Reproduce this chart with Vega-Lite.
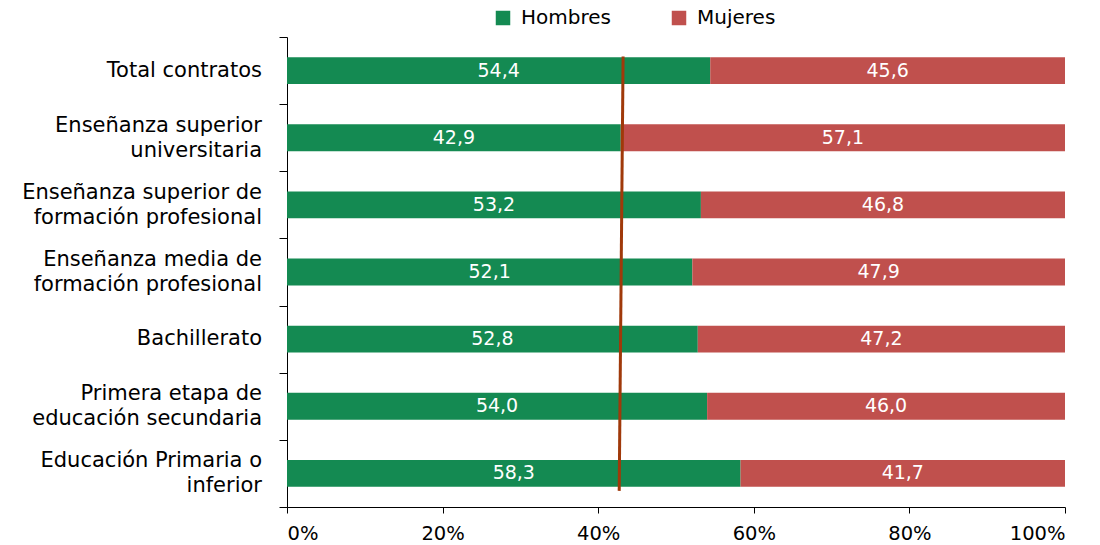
{
  "$schema": "https://vega.github.io/schema/vega-lite/v6.json",
  "autosize": {"type": "none"},
  "width": 778,
  "height": 470,
  "padding": {"left": 287, "top": 37, "right": 35, "bottom": 38},
  "background": "white",
  "config": {
    "view": {"stroke": null},
    "font": "DejaVu Sans",
    "locale": {"number": {"decimal": ",", "thousands": ".", "grouping": [3], "currency": ["", " €"]}}
  },
  "datasets": {
    "bars": [
      {"categoria": "Total contratos", "sexo": "Hombres", "valor": 54.4},
      {"categoria": "Total contratos", "sexo": "Mujeres", "valor": 45.6},
      {"categoria": "Enseñanza superior|universitaria", "sexo": "Hombres", "valor": 42.9},
      {"categoria": "Enseñanza superior|universitaria", "sexo": "Mujeres", "valor": 57.1},
      {"categoria": "Enseñanza superior de|formación profesional", "sexo": "Hombres", "valor": 53.2},
      {"categoria": "Enseñanza superior de|formación profesional", "sexo": "Mujeres", "valor": 46.8},
      {"categoria": "Enseñanza media de|formación profesional", "sexo": "Hombres", "valor": 52.1},
      {"categoria": "Enseñanza media de|formación profesional", "sexo": "Mujeres", "valor": 47.9},
      {"categoria": "Bachillerato", "sexo": "Hombres", "valor": 52.8},
      {"categoria": "Bachillerato", "sexo": "Mujeres", "valor": 47.2},
      {"categoria": "Primera etapa de|educación secundaria", "sexo": "Hombres", "valor": 54.0},
      {"categoria": "Primera etapa de|educación secundaria", "sexo": "Mujeres", "valor": 46.0},
      {"categoria": "Educación Primaria o|inferior", "sexo": "Hombres", "valor": 58.3},
      {"categoria": "Educación Primaria o|inferior", "sexo": "Mujeres", "valor": 41.7}
    ],
    "linea": [
      {"desde": "Total contratos", "hasta": "Educación Primaria o|inferior", "x_sup": 0.432, "x_inf": 0.427}
    ]
  },
  "layer": [
    {
      "data": {"name": "bars"},
      "mark": {"type": "bar", "height": {"band": 0.4}},
      "encoding": {
        "y": {
          "field": "categoria", "type": "nominal",
          "sort": null,
          "scale": {
            "domain": ["Total contratos", "Enseñanza superior|universitaria", "Enseñanza superior de|formación profesional", "Enseñanza media de|formación profesional", "Bachillerato", "Primera etapa de|educación secundaria", "Educación Primaria o|inferior"],
            "paddingInner": 0, "paddingOuter": 0
          },
          "axis": {
            "title": null,
            "labels": false,
            "tickBand": "extent",
            "tickSize": 8,
            "tickColor": "#000000",
            "domainColor": "#000000"
          }
        },
        "x": {
          "field": "valor", "type": "quantitative", "stack": "normalize",
          "scale": {"domain": [0, 1]},
          "axis": {
            "title": null, "format": ".0%", "values": [0, 0.2, 0.4, 0.6, 0.8, 1],
            "grid": false, "labelFontSize": 19.5, "labelColor": "#000000",
            "tickColor": "#000000", "domainColor": "#000000", "tickSize": 6, "labelPadding": 11
          }
        },
        "color": {
          "field": "sexo", "type": "nominal",
          "scale": {"domain": ["Hombres", "Mujeres"], "range": ["#148A52", "#C0504D"]},
          "legend": {
            "title": null, "orient": "none", "direction": "horizontal",
            "legendX": 206, "legendY": -29,
            "symbolType": "square", "symbolSize": 210, "symbolStrokeWidth": 0,
            "labelFontSize": 20, "labelColor": "#000000", "labelOffset": 8,
            "columnPadding": 58
          }
        },
        "order": {"field": "sexo", "type": "nominal", "sort": "ascending"}
      }
    },
    {
      "data": {"name": "bars"},
      "mark": {"type": "text", "color": "white", "fontSize": 19, "baseline": "middle", "align": "center"},
      "encoding": {
        "y": {"field": "categoria", "type": "nominal", "sort": null},
        "x": {"field": "valor", "type": "quantitative", "stack": "normalize", "bandPosition": 0.5},
        "detail": {"field": "sexo", "type": "nominal"},
        "order": {"field": "sexo", "type": "nominal", "sort": "ascending"},
        "text": {"field": "valor", "type": "quantitative", "format": ".1f"}
      }
    },
    {
      "data": {"name": "bars"},
      "transform": [
        {"filter": "datum.sexo == 'Hombres' && indexof(datum.categoria, '|') < 0"}
      ],
      "mark": {"type": "text", "color": "#000000", "fontSize": 21, "baseline": "middle", "align": "right", "dx": -25},
      "encoding": {
        "y": {"field": "categoria", "type": "nominal", "sort": null},
        "x": {"datum": 0},
        "text": {"field": "categoria", "type": "nominal"}
      }
    },
    {
      "data": {"name": "bars"},
      "transform": [
        {"filter": "datum.sexo == 'Hombres' && indexof(datum.categoria, '|') >= 0"}
      ],
      "mark": {"type": "text", "color": "#000000", "fontSize": 21, "baseline": "line-bottom", "lineHeight": 25, "lineBreak": "|", "align": "right", "dx": -25},
      "encoding": {
        "y": {"field": "categoria", "type": "nominal", "sort": null},
        "x": {"datum": 0},
        "text": {"field": "categoria", "type": "nominal"}
      }
    },
    {
      "data": {"name": "linea"},
      "mark": {"type": "rule", "color": "#A0390A", "strokeWidth": 3},
      "encoding": {
        "y": {"field": "desde", "type": "nominal", "bandPosition": 0.29, "sort": null},
        "y2": {"field": "hasta", "bandPosition": 0.76},
        "x": {"field": "x_sup", "type": "quantitative"},
        "x2": {"field": "x_inf"}
      }
    }
  ]
}
